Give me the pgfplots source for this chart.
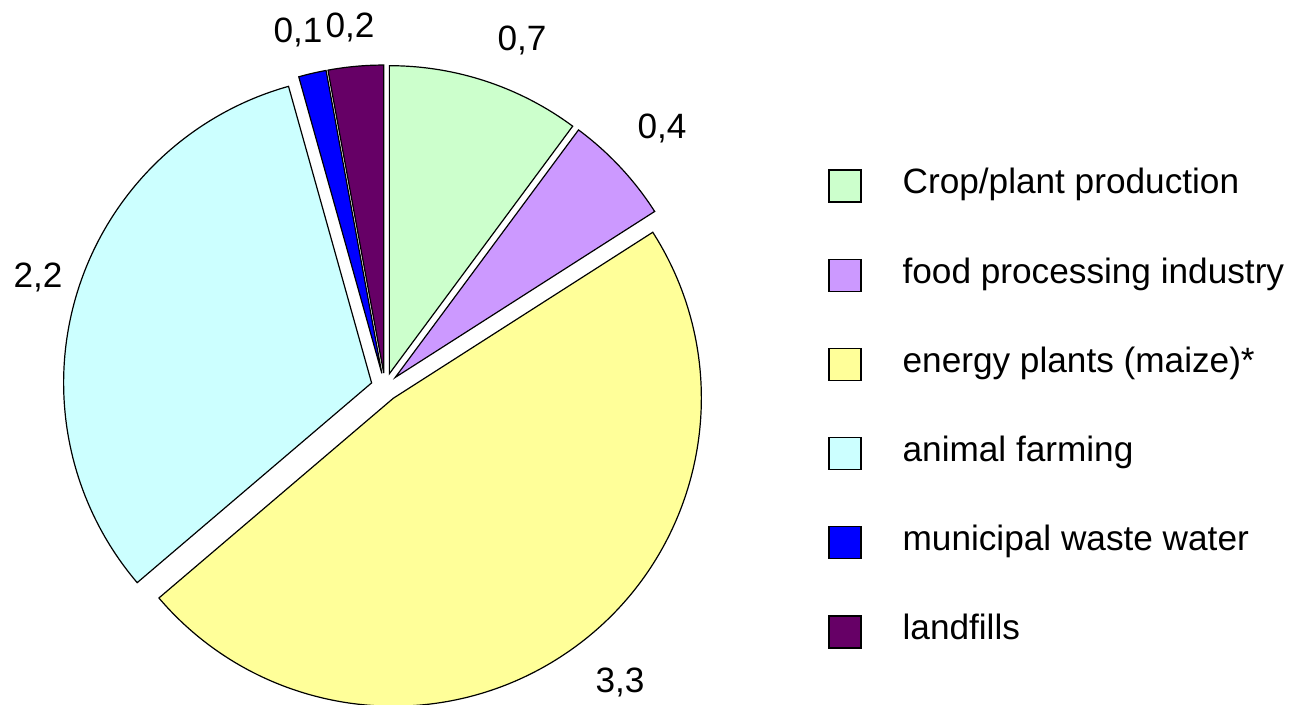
\documentclass[border=0pt]{standalone}
\usepackage{pgfplots}
\usepackage{pgfplotstable}
\pgfplotsset{compat=1.18}
\usepackage{fontspec}
\setmainfont{Liberation Sans}

\definecolor{cropgreen}{HTML}{CCFFCC}
\definecolor{foodlilac}{HTML}{CC99FF}
\definecolor{energyyellow}{HTML}{FFFF99}
\definecolor{animalcyan}{HTML}{CCFFFF}
\definecolor{wasteblue}{HTML}{0000FF}
\definecolor{landfillplum}{HTML}{660066}

\newcommand\chartfont{\fontsize{17.6pt}{21pt}\selectfont}

% value of each slice, its fill, and where its value label sits
\pgfplotstableread{
value color        lx   ly
0.7   cropgreen    522  665
0.4   foodlilac    662  577
3.3   energyyellow 620  23
2.2   animalcyan   38   428
0.1   wasteblue    298  673
0.2   landfillplum 350  678
}\piedata

\begin{document}
\begin{tikzpicture}
\pgfkeys{/pgf/number format/assume math mode=true}
% total of all slices
\pgfplotstablegetrowsof{\piedata}
\pgfmathtruncatemacro\lastslice{\pgfplotsretval-1}
\gdef\piesum{0}
\foreach \i in {0,...,\lastslice}{
  \pgfplotstablegetelem{\i}{value}\of\piedata
  \pgfmathsetmacro\tmp{\piesum+\pgfplotsretval}
  \xdef\piesum{\tmp}
}
% start, end and middle angle of each slice, clockwise from 12 o'clock
\gdef\pieangle{90}
\foreach \i in {0,...,\lastslice}{
  \pgfplotstablegetelem{\i}{value}\of\piedata
  \expandafter\xdef\csname pieV\i\endcsname{\pgfplotsretval}
  \pgfmathsetmacro\endang{\pieangle-360*\pgfplotsretval/\piesum}
  \pgfmathsetmacro\midang{(\pieangle+\endang)/2}
  \expandafter\xdef\csname pieS\i\endcsname{\pieangle}
  \expandafter\xdef\csname pieE\i\endcsname{\endang}
  \expandafter\xdef\csname pieM\i\endcsname{\midang}
  \pgfplotstablegetelem{\i}{color}\of\piedata
  \expandafter\xdef\csname pieF\i\endcsname{\pgfplotsretval}
  \pgfplotstablegetelem{\i}{lx}\of\piedata
  \expandafter\xdef\csname pieLX\i\endcsname{\pgfplotsretval}
  \pgfplotstablegetelem{\i}{ly}\of\piedata
  \expandafter\xdef\csname pieLY\i\endcsname{\pgfplotsretval}
  \xdef\pieangle{\endang}
}
\useasboundingbox (0,0) rectangle (656pt,352.5pt);
\begin{axis}[
  x=0.5pt, y=0.5pt,
  xmin=0, xmax=1312, ymin=0, ymax=705,
  hide axis, clip=false,
  legend image code/.code={\draw[#1,draw=black,line width=0.6pt] (0pt,-8pt) rectangle (16pt,8pt);},
  legend style={at={(0.6311,0.7603)}, anchor=north west, draw=none, fill=none,
    inner sep=0pt, row sep=28pt, column sep=20.5pt, font=\chartfont,
    nodes={inner sep=0pt, text height=11.5pt, text depth=3.5pt}},
  legend cell align=left,
]
\pgfplotsinvokeforeach{0,...,5}{
  \filldraw[fill=\csname pieF#1\endcsname, draw=black, line width=0.6pt]
    (axis cs:{385+14*cos(\csname pieM#1\endcsname)},{318+14*sin(\csname pieM#1\endcsname)})
    -- ++(\csname pieS#1\endcsname:154pt)
    arc[start angle=\csname pieS#1\endcsname, end angle=\csname pieE#1\endcsname, radius=154pt]
    -- cycle;
  \node[font=\chartfont] at (axis cs:\csname pieLX#1\endcsname,\csname pieLY#1\endcsname)
    {\pgfmathprintnumber[use comma,fixed,fixed zerofill,precision=1]{\csname pieV#1\endcsname}};
}
\addlegendimage{fill=cropgreen}
\addlegendentry{Crop/plant production}
\addlegendimage{fill=foodlilac}
\addlegendentry{food processing industry}
\addlegendimage{fill=energyyellow}
\addlegendentry{energy plants (maize)*}
\addlegendimage{fill=animalcyan}
\addlegendentry{animal farming}
\addlegendimage{fill=wasteblue}
\addlegendentry{municipal waste water}
\addlegendimage{fill=landfillplum}
\addlegendentry{landfills}
\end{axis}
\end{tikzpicture}
\end{document}
